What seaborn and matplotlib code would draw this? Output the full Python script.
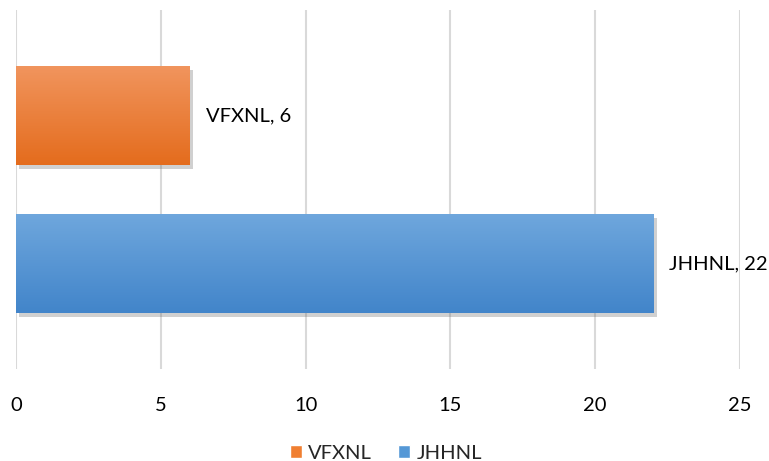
import numpy as np
import pandas as pd
import matplotlib
matplotlib.use("Agg")
import matplotlib.pyplot as plt
import matplotlib.patheffects as pe
from matplotlib.patches import Patch
import seaborn as sns

categories = ["VFXNL", "JHHNL"]
values = [6, 22]
colors_top = ["#F1955E", "#6FA7DD"]
colors_bot = ["#E46C1D", "#4285CA"]
colors_mid = ["#F07F31", "#5598D6"]
xticks = [0, 5, 10, 15, 20, 25]

sns.set_theme(style="white")
plt.rcParams["font.family"] = ["Lato", "DejaVu Sans"]

df = pd.DataFrame({"cat": categories, "val": values})

fig = plt.figure(figsize=(7.69, 4.61), dpi=100)
ax = fig.add_axes([16/769, 1-369/461, (740-16)/769, (369-10)/461])

sns.barplot(data=df, y="cat", x="val", hue="cat", palette=colors_mid,
            orient="h", width=0.67, ax=ax, legend=False, zorder=3)

for i, p in enumerate(ax.patches):
    p.set_edgecolor("none")
    p.set_path_effects([pe.SimplePatchShadow(offset=(2.5, -3), shadow_rgbFace="#666666", alpha=0.3), pe.Normal()])
    x0, y0 = p.get_x(), p.get_y()
    w, h = p.get_width(), p.get_height()
    c1 = np.array(matplotlib.colors.to_rgb(colors_top[i]))
    c2 = np.array(matplotlib.colors.to_rgb(colors_bot[i]))
    t = np.linspace(0, 1, 100)[:, None]
    grad = (c1 * (1 - t) + c2 * t)[:, None, :]
    im = ax.imshow(grad, extent=[x0, x0 + w, y0 + h, y0], aspect="auto",
                   zorder=4, interpolation="bilinear", origin="upper")
    im.set_clip_path(p)
    ax.text(x0 + w + 0.55, y0 + h / 2, f"{categories[i]}, {values[i]}",
            va="center", ha="left", fontsize=14.5, color="#000000", zorder=5)

ax.set_xlim(0, 25)
ax.set_ylim(1.713, -0.713)
ax.set_xticks(xticks)
ax.set_xticklabels([str(x) for x in xticks], fontsize=14.5, color="#000000")
ax.set_yticks([])
ax.set_xlabel("")
ax.set_ylabel("")
ax.tick_params(axis="x", length=0, pad=20)
ax.grid(axis="x", color="#D9D9D9", linewidth=1.5, zorder=0)
ax.set_axisbelow(True)
for s in ax.spines.values():
    s.set_visible(False)

handles = [Patch(facecolor=colors_mid[0], label=categories[0]),
           Patch(facecolor=colors_mid[1], label=categories[1])]
fig.legend(handles=handles, loc="center", bbox_to_anchor=(386/769, 1-453/461),
           ncol=2, frameon=False, fontsize=14.5, handlelength=0.6, handleheight=0.6,
           handletextpad=0.3, columnspacing=1.3)

fig.savefig("out.png", dpi=100)
